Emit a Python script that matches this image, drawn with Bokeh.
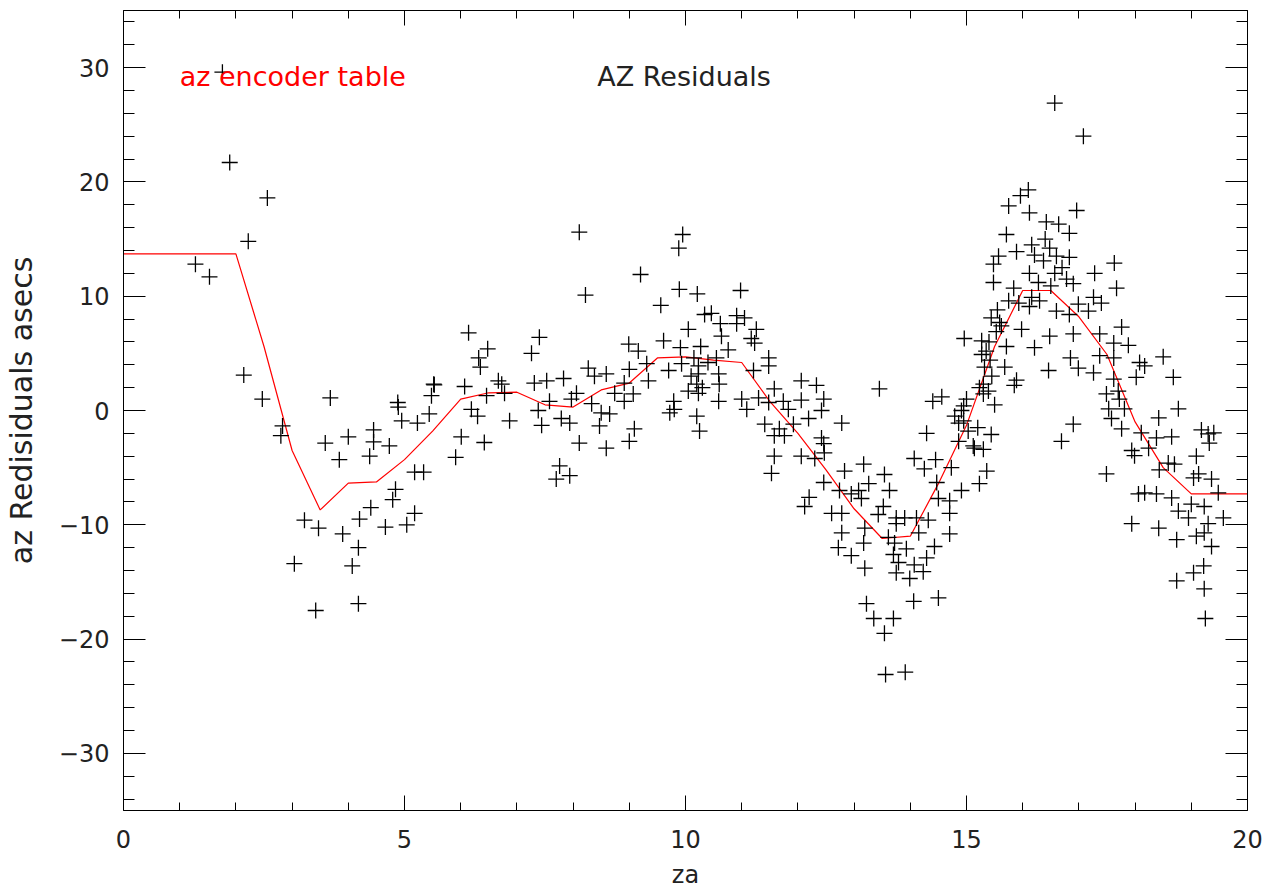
from bokeh.plotting import figure
from bokeh.models import Range1d, LinearAxis, SingleIntervalTicker
from bokeh.embed import file_html
from bokeh.resources import INLINE
from bokeh.core.properties import value

FONT = "DejaVu Sans"

# ---- encoder table (red curve) ----
table_za = [0, 2, 2.5, 3, 3.5, 4, 4.5, 5, 5.5, 6, 6.5, 7, 7.5, 8, 8.5, 9, 9.5, 10,
            10.5, 11, 11.5, 12, 12.5, 13, 13.5, 14, 14.5, 15, 15.5, 16, 16.5, 17,
            17.5, 18, 18.5, 19, 20]
table_az = [13.7, 13.7, 5.6, -3.5, -8.7, -6.35, -6.25, -4.3, -1.8, 1.0, 1.55, 1.6,
            0.5, 0.3, 1.8, 2.4, 4.6, 4.7, 4.4, 4.2, 0.8, -2.0, -5.2, -8.6, -11.2,
            -11.0, -6.4, -1.3, 5.6, 10.5, 10.5, 8.2, 4.9, -1.0, -5.0, -7.3, -7.3]

# ---- residual measurements (crosses), by za segment ----
za_1 = [1.76, 1.89, 2.56, 2.22, 1.28, 1.53, 2.14, 2.47, 2.83, 2.80, 3.04]
az_1 = [29.6, 21.7, 18.6, 14.8, 12.8, 11.7, 3.1, 1.0, -1.35, -2.2, -13.4]

za_2 = [3.22, 3.47, 3.42, 3.68, 3.59, 3.84, 3.9, 4.0, 4.07, 4.18, 4.18, 4.2,
        4.38, 4.40, 4.45, 4.45, 4.66, 4.73, 4.79, 4.84, 4.88, 4.89, 4.95]
az_2 = [-9.6, -10.3, -17.5, 1.1, -2.85, -4.3, -10.8, -2.3, -13.6, -12.0, -16.9, -9.5,
        -4.0, -8.5, -1.7, -2.75, -10.2, -3.1, -7.8, -6.9, 0.7, 0.3, -0.9]

za_3 = [5.04, 5.18, 5.18, 5.23, 5.34, 5.44, 5.48, 5.52, 5.53, 5.91, 6.01, 6.07,
        6.14, 6.19, 6.3, 6.32, 6.35, 6.42, 6.46, 6.48, 6.67, 6.73, 6.78, 6.87]
az_3 = [-10.0, -9.0, -5.4, -1.1, -5.4, -0.3, 1.3, 2.3, 2.25, -4.1, -2.3, 2.1,
        6.8, 0.1, -0.5, 4.6, 3.8, -2.8, 1.3, 5.4, 2.6, 2.3, 1.5, -0.9]

za_4 = [7.40, 7.26, 7.31, 7.53, 7.83, 7.97, 7.58, 7.38, 7.79, 7.44, 7.94, 7.76,
        7.94, 7.7, 8.11, 8.22, 8.27, 8.38, 8.06, 8.33, 8.5, 8.47, 8.11]
az_4 = [6.4, 5.0, 2.4, 2.6, 2.8, 1.0, 0.8, 0.0, -0.7, -1.3, -1.1, -4.85,
        -5.7, -6.0, 15.6, 10.1, 3.7, 3.0, 1.5, 0.6, -0.2, -1.35, -2.85]

za_5 = [8.59, 8.74, 8.65, 8.59, 8.99, 9.0, 8.91, 8.91, 9.07, 9.09, 9.0, 9.16, 9.2,
        9.31, 9.34, 9.56, 9.61, 9.7, 9.72, 9.79, 9.8, 9.88, 9.95, 9.89, 9.91, 9.93]
az_5 = [3.2, 1.5, -0.3, -3.3, 5.8, 3.6, 2.4, 0.8, 1.45, -1.6, -2.7, 5.2, 11.9,
        4.1, 2.6, 9.2, 6.1, 3.5, -0.2, 0.8, 0.1, 14.2, 15.4, 10.6, 5.5, 4.1]

za_6 = [10.05, 10.05, 10.2, 10.2, 10.21, 10.23, 10.23, 10.23, 10.25, 10.27, 10.34,
        10.46, 10.55, 10.59, 10.59, 10.6, 10.62, 10.64, 10.76, 10.91, 10.91, 10.98, 11.0]
az_6 = [7.1, 1.7, 2.3, -0.5, 10.2, 3.9, 3.2, 1.5, -1.8, 5.6, 8.4,
        8.5, 4.6, 3.2, 0.8, 2.3, 7.6, 6.5, 5.3, 8.3, 7.6, 10.5, 1.0]

za_7 = [11.05, 11.09, 11.17, 11.21, 11.23, 11.26, 11.3, 11.41, 11.48, 11.48, 11.48,
        11.53, 11.58, 11.58, 11.58, 11.67, 11.74, 11.76, 11.83, 11.92]
az_7 = [8.1, 0.1, 6.3, 3.5, 5.9, 7.1, 1.1, -1.2, 4.6, 3.9, 0.7,
        -5.5, 1.9, -2.2, -4.0, -1.6, 0.8, -2.2, 0.1, -1.2]

za_8 = [12.06, 12.06, 12.06, 12.12, 12.19, 12.2, 12.3, 12.33, 12.42, 12.42, 12.46,
        12.46, 12.46, 12.47, 12.6, 12.74, 12.78, 12.78, 12.83, 12.95, 13.08]
az_8 = [2.6, 0.9, -4.0, -8.4, -0.7, -7.6, -4.2, 2.2, 0.0, -2.4, 1.0,
        -2.9, -6.3, -3.7, -9.0, -7.0, -1.1, -9.0, -5.3, -7.3, -7.0]

za_9 = [13.45, 14.56, 14.4, 14.91, 14.95, 14.86, 15.2, 14.29, 15.44, 14.86, 15.14,
        15.3, 14.07, 14.45, 13.17, 14.25, 14.73, 15.36, 13.54, 13.26, 14.47, 15.23,
        13.63, 14.91, 13.13, 14.5, 14.7]
az_9 = [1.9, 1.2, 0.8, 0.0, -0.9, -1.1, -1.5, -2.0, -2.1, -2.7, -3.3,
        -3.4, -4.2, -4.3, -4.7, -5.1, -5.0, -5.3, -5.6, -6.4, -6.3, -6.4,
        -7.0, -7.0, -7.7, -7.7, -7.9]

za_10 = [13.52, 13.43, 14.7, 13.75, 13.9, 14.11, 14.32, 13.19, 13.75, 14.15, 14.7,
         12.78, 13.61, 13.72, 13.17, 12.72, 13.93, 14.43, 13.7, 12.95, 14.29, 13.79,
         14.07, 13.19, 13.75, 14.23, 13.99]
az_10 = [-8.4, -9.1, -9.0, -9.4, -9.4, -9.4, -9.6, -10.3, -9.9, -10.7, -10.8,
         -10.7, -11.1, -11.6, -11.6, -12.0, -12.1, -11.9, -12.6, -12.7, -12.9, -13.3,
         -13.5, -13.8, -14.2, -14.1, -14.7]

za_11 = [13.22, 14.06, 14.5, 13.35, 13.7, 13.54, 13.56, 13.91, 15.32, 15.85, 15.23,
         15.39, 14.95, 14.79, 15.03, 15.12]
az_11 = [-16.9, -16.7, -16.4, -18.2, -18.2, -19.5, -23.1, -22.9, 3.8, 2.2, 2.0,
         1.7, 0.4, -0.5, -1.8, -3.1]

za_12 = [16.57, 17.08, 16.1, 15.96, 15.75, 16.12, 16.96, 16.42, 16.64, 16.83, 15.71,
         16.16, 16.48, 15.89, 15.57, 16.21, 16.6, 16.83, 15.48, 16.37, 17.63, 16.57,
         17.28, 16.12]
az_12 = [26.9, 24.0, 19.3, 18.8, 17.9, 17.3, 17.5, 16.5, 16.3, 15.5, 15.4,
         14.5, 14.2, 13.9, 13.5, 13.6, 13.5, 13.4, 12.8, 13.1, 12.9, 12.0,
         12.0, 12.0]

za_13 = [16.78, 15.48, 15.84, 16.28, 16.9, 17.67, 16.16, 17.26, 15.93, 16.99, 17.4,
         16.12, 16.6, 15.44, 15.59, 16.83, 17.17, 17.76, 15.53, 15.98, 14.96, 15.27,
         15.71, 16.21, 15.27, 15.68, 15.89, 15.3, 15.0, 15.3]
az_13 = [11.5, 11.2, 10.7, 11.2, 11.1, 10.7, 9.9, 9.9, 9.4, 9.3, 9.4,
         9.1, 8.7, 8.1, 7.7, 8.4, 8.7, 7.3, 6.9, 7.1, 6.3, 6.1,
         5.6, 5.5, 4.9, 3.8, 2.65, 2.3, 1.0, 1.45]

za_14 = [16.48, 16.9, 17.37, 17.62, 17.88, 16.85, 16.99, 16.46, 17.26, 17.37, 17.62,
         18.08, 18.17, 18.5, 18.02, 18.68, 17.62, 17.7, 17.49, 17.72, 17.81, 17.53,
         18.77, 17.58, 17.76]
az_14 = [6.5, 6.7, 6.7, 5.9, 5.7, 4.6, 3.7, 3.5, 3.3, 4.8, 4.6,
         4.2, 3.9, 4.7, 2.9, 2.9, 2.75, 1.7, 1.45, 1.0, 0.15, 0.15,
         0.15, -0.7, -1.6]

za_15 = [18.42, 16.9, 16.69, 18.11, 18.38, 18.65, 19.18, 19.3, 19.4, 19.32, 17.94,
         17.99, 18.24, 19.09, 17.49, 18.43, 18.59, 18.7, 19.13, 19.04, 19.36, 19.48]
az_15 = [-0.65, -1.2, -2.7, -1.95, -2.4, -2.3, -1.7, -2.05, -1.95, -2.85, -3.5,
         -3.95, -3.3, -4.0, -5.55, -5.2, -4.6, -4.7, -5.55, -5.9, -6.0, -7.2]

za_16 = [18.06, 18.17, 18.38, 18.65, 19.0, 19.23, 19.57, 18.77, 18.95, 17.94, 18.42,
         19.3, 18.74, 19.09, 19.23, 19.36, 19.22, 19.04, 18.74, 19.23, 19.25]
az_16 = [-7.3, -7.2, -7.3, -7.65, -8.2, -8.4, -9.4, -8.8, -9.4, -9.9, -10.3,
         -9.9, -11.3, -11.0, -10.7, -11.9, -13.6, -14.2, -14.9, -15.6, -18.2]

za_17 = [15.35, 15.4, 15.45, 15.55, 15.62, 15.75, 15.5, 15.42, 10.1, 10.3, 10.4,
         10.15, 16.3, 16.5, 16.7, 16.4]
az_17 = [5.2, 6.0, 3.0, 8.8, 7.4, 9.6, 0.5, 4.4, 3.0, 2.0, 4.2,
         4.6, 9.6, 10.9, 12.5, 15.0]

za_segments = [za_1, za_2, za_3, za_4, za_5, za_6, za_7, za_8, za_9, za_10, za_11,
               za_12, za_13, za_14, za_15, za_16, za_17]
az_segments = [az_1, az_2, az_3, az_4, az_5, az_6, az_7, az_8, az_9, az_10, az_11,
               az_12, az_13, az_14, az_15, az_16, az_17]
meas_za = [v for seg in za_segments for v in seg]
meas_az = [v for seg in az_segments for v in seg]

# ---- texts ----
title_text = "AZ Residuals"
legend_text = "az encoder table"
x_title = "za"
y_title = "az Redisiduals asecs"
x_range = (0, 20)
y_range = (-35, 35)
legend_pos = (1.0, 29.2)
title_pos = (8.43, 29.2)
neg_labels = {-10: "\u221210", -20: "\u221220", -30: "\u221230"}

p = figure(frame_width=1124, frame_height=800,
           x_range=Range1d(*x_range), y_range=Range1d(*y_range),
           output_backend="svg", toolbar_location=None,
           min_border_left=114, min_border_right=22, min_border_top=10,
           min_border_bottom=0, background_fill_color="white",
           border_fill_color="white")
p.outline_line_color = None
p.xgrid.visible = False
p.ygrid.visible = False


def style_axis(ax, interval, major_len, minor_len, labels):
    ax.ticker = SingleIntervalTicker(interval=interval, num_minor_ticks=5)
    ax.major_tick_in = major_len
    ax.major_tick_out = 0
    ax.minor_tick_in = minor_len
    ax.minor_tick_out = 0
    ax.axis_line_color = "black"
    ax.axis_line_width = 1
    ax.major_tick_line_color = "black"
    ax.minor_tick_line_color = "black"
    ax.major_tick_line_width = 1
    ax.minor_tick_line_width = 1
    if labels:
        ax.major_label_text_font = FONT
        ax.major_label_text_font_size = "24px"
        ax.major_label_text_color = "#222222"
        ax.axis_label_text_font = FONT
        ax.axis_label_text_font_style = "normal"
        ax.axis_label_text_color = "#222222"
    else:
        ax.major_label_text_color = None
        ax.major_label_text_font_size = "1px"
        ax.major_label_standoff = 0
        ax.axis_label = None


xa = p.xaxis[0]
style_axis(xa, 5, 15, 8, True)
xa.axis_label = x_title
xa.axis_label_text_font_size = "24px"
xa.major_label_standoff = 19
xa.axis_label_standoff = 10

ya = p.yaxis[0]
style_axis(ya, 10, 22, 11, True)
ya.axis_label = y_title
ya.axis_label_text_font_size = "30px"
ya.major_label_standoff = 14
ya.axis_label_standoff = 17
ya.major_label_overrides = neg_labels

top = LinearAxis()
style_axis(top, 5, 15, 8, False)
p.add_layout(top, "above")
right = LinearAxis()
style_axis(right, 10, 22, 11, False)
p.add_layout(right, "right")

p.line(table_za, table_az, line_color="#ff0000", line_width=1.2)
p.scatter(meas_za, meas_az, marker="cross", size=16, line_color="black",
          line_width=1.3)

p.text(x=[legend_pos[0]], y=[legend_pos[1]], text=[legend_text],
       text_font=value(FONT), text_font_size="27px", text_color="#ff0000",
       text_baseline="alphabetic", text_align="left")
p.text(x=[title_pos[0]], y=[title_pos[1]], text=[title_text],
       text_font=value(FONT), text_font_size="27px", text_color="#222222",
       text_baseline="alphabetic", text_align="left")

open("out.html", "w").write(file_html(p, INLINE))
